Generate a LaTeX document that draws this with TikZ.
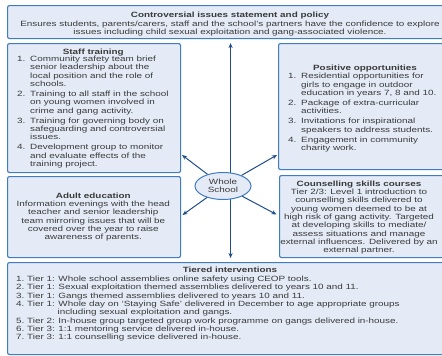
\documentclass[tikz,border=0pt]{standalone}
\usepackage{fontspec}
\setmainfont{Liberation Sans}[FakeStretch=1.3]
\usetikzlibrary{arrows.meta,shapes.geometric}
\definecolor{boxfill}{HTML}{E4EBF6}
\definecolor{boxline}{HTML}{3F7CC1}
\definecolor{arrowc}{HTML}{1F4E8C}
\definecolor{textc}{HTML}{3A3A3A}
\newcommand\blk[2]{\begin{tabular}[t]{@{}#1@{}}#2\end{tabular}}
\begin{document}
\begin{tikzpicture}[x=1pt,y=-1pt,
  box/.style={draw=boxline, fill=boxfill, line width=1.1pt, rounded corners=2pt, inner sep=0pt, anchor=north west},
  ttl/.style={font=\fontsize{7.6}{8.35}\selectfont\bfseries, text=textc, inner sep=0pt, anchor=base},
  txt/.style={font=\fontsize{7.6}{8.35}\selectfont, text=textc, inner sep=0pt},
  arr/.style={draw=arrowc, line width=1pt, -{Stealth[length=5pt,width=4.2pt]}},
  darr/.style={draw=arrowc, line width=1pt, {Stealth[length=5pt,width=4.2pt]}-{Stealth[length=5pt,width=4.2pt]}, shorten <=4pt, shorten >=4pt}]
\useasboundingbox (0,0) rectangle (442,356);
\clip (0,0) rectangle (442,356);
\fill[white] (0,0) rectangle (442,356);

% boxes
\node[box, minimum width=446pt, minimum height=33pt] (top) at (7,5) {};
\node[box, minimum width=173pt, minimum height=129pt] (staff) at (7,43) {};
\node[box, minimum width=182pt, minimum height=126pt] (pos) at (278,43) {};
\node[box, minimum width=173pt, minimum height=81pt] (adult) at (7,176) {};
\node[box, minimum width=181pt, minimum height=82pt] (coun) at (279,175) {};
\node[box, minimum width=446pt, minimum height=92pt] (tier) at (7,262) {};

% top
\node[ttl] (toptitle) at (230,17.3) {Controversial issues statement and policy};
\node[txt, anchor=base] (topbody) at (230,26.3) {\blk{c}{Ensures students, parents/carers, staff and the school's partners have the confidence to explore\\
issues including child sexual exploitation and gang-associated violence.}};

% staff training
\node[ttl] (stafftitle) at (93.3,54.3) {Staff training};
\node[txt, anchor=base west] (staffbody) at (17,61.3) {\blk{p{13pt}@{}l}{1.& Community safety team brief\\
 & senior leadership about the\\
 & local position and the role of\\
 & schools.\\[1.7pt]
2.& Training to all staff in the school\\
 & on young women involved in\\
 & crime and gang activity.\\[1.7pt]
3.& Training for governing body on\\
 & safeguarding and controversial\\
 & issues.\\[1.7pt]
4.& Development group to monitor\\
 & and evaluate effects of the\\
 & training project.}};

% positive opportunities
\node[ttl] (postitle) at (365,70) {Positive opportunities};
\node[txt, anchor=base west] (posbody) at (288,78.7) {\blk{p{13pt}@{}l}{1.& Residential opportunities for\\
 & girls to engage in outdoor\\
 & education in years 7, 8 and 10.\\[1.7pt]
2.& Package of extra-curricular\\
 & activities.\\[1.7pt]
3.& Invitations for inspirational\\
 & speakers to address students.\\[1.7pt]
4.& Engagement in community\\
 & charity work.}};

% adult education
\node[ttl] (adulttitle) at (93.3,198.3) {Adult education};
\node[txt, anchor=base] (adultbody) at (93.3,206.3) {\blk{c}{Information evenings with the head\\
teacher and senior leadership\\
team mirroring issues that will be\\
covered over the year to raise\\
awareness of parents.}};

% counselling
\node[ttl] (countitle) at (359,186.3) {Counselling skills courses};
\node[txt, anchor=base] (counbody) at (359,194.3) {\blk{c}{Tier 2/3: Level 1 introduction to\\
counselling skills delivered to\\
young women deemed to be at\\
high risk of gang activity. Targeted\\
at developing skills to mediate/\\
assess situations and manage\\
external influences. Delivered by an\\
external partner.}};

% tiered
\node[ttl] (tiertitle) at (230,272.3) {Tiered interventions};
\node[txt, anchor=base west] (tierbody) at (16,281.3) {\blk{p{11pt}@{}l}{1.& Tier 1: Whole school assemblies online safety using CEOP tools.\\
2.& Tier 1: Sexual exploitation themed assemblies delivered to years 10 and 11.\\
3.& Tier 1: Gangs themed assemblies delivered to years 10 and 11.\\
4.& Tier 1: Whole day on ‘Staying Safe’ delivered in December to age appropriate groups\\
 & \phantom{Tier 1:\ }including sexual exploitation and gangs.\\
5.& Tier 2: In-house group targeted group work programme on gangs delivered in-house.\\
6.& Tier 3: 1:1 mentoring service delivered in-house.\\
7.& Tier 3: 1:1 counselling sevice delivered in-house.}};

% connectors
\draw[darr] (top.south) -- (tier.north);
\node[draw=boxline, fill=boxfill, ellipse, line width=1pt, inner sep=0pt,
      minimum width=56pt, minimum height=27pt, text=textc, align=center,
      font=\fontsize{7.6}{8.35}\selectfont] (ws) at (223,186) {Whole\\School};
\coordinate (tUL) at (182,155);
\coordinate (tUR) at (277,155);
\coordinate (tLL) at (182.5,215);
\coordinate (tLR) at (276.5,214.5);
\draw[arr] (ws) -- (tUL);
\draw[arr] (ws) -- (tUR);
\draw[arr] (ws) -- (tLL);
\draw[arr] (ws) -- (tLR);
\end{tikzpicture}
\end{document}
